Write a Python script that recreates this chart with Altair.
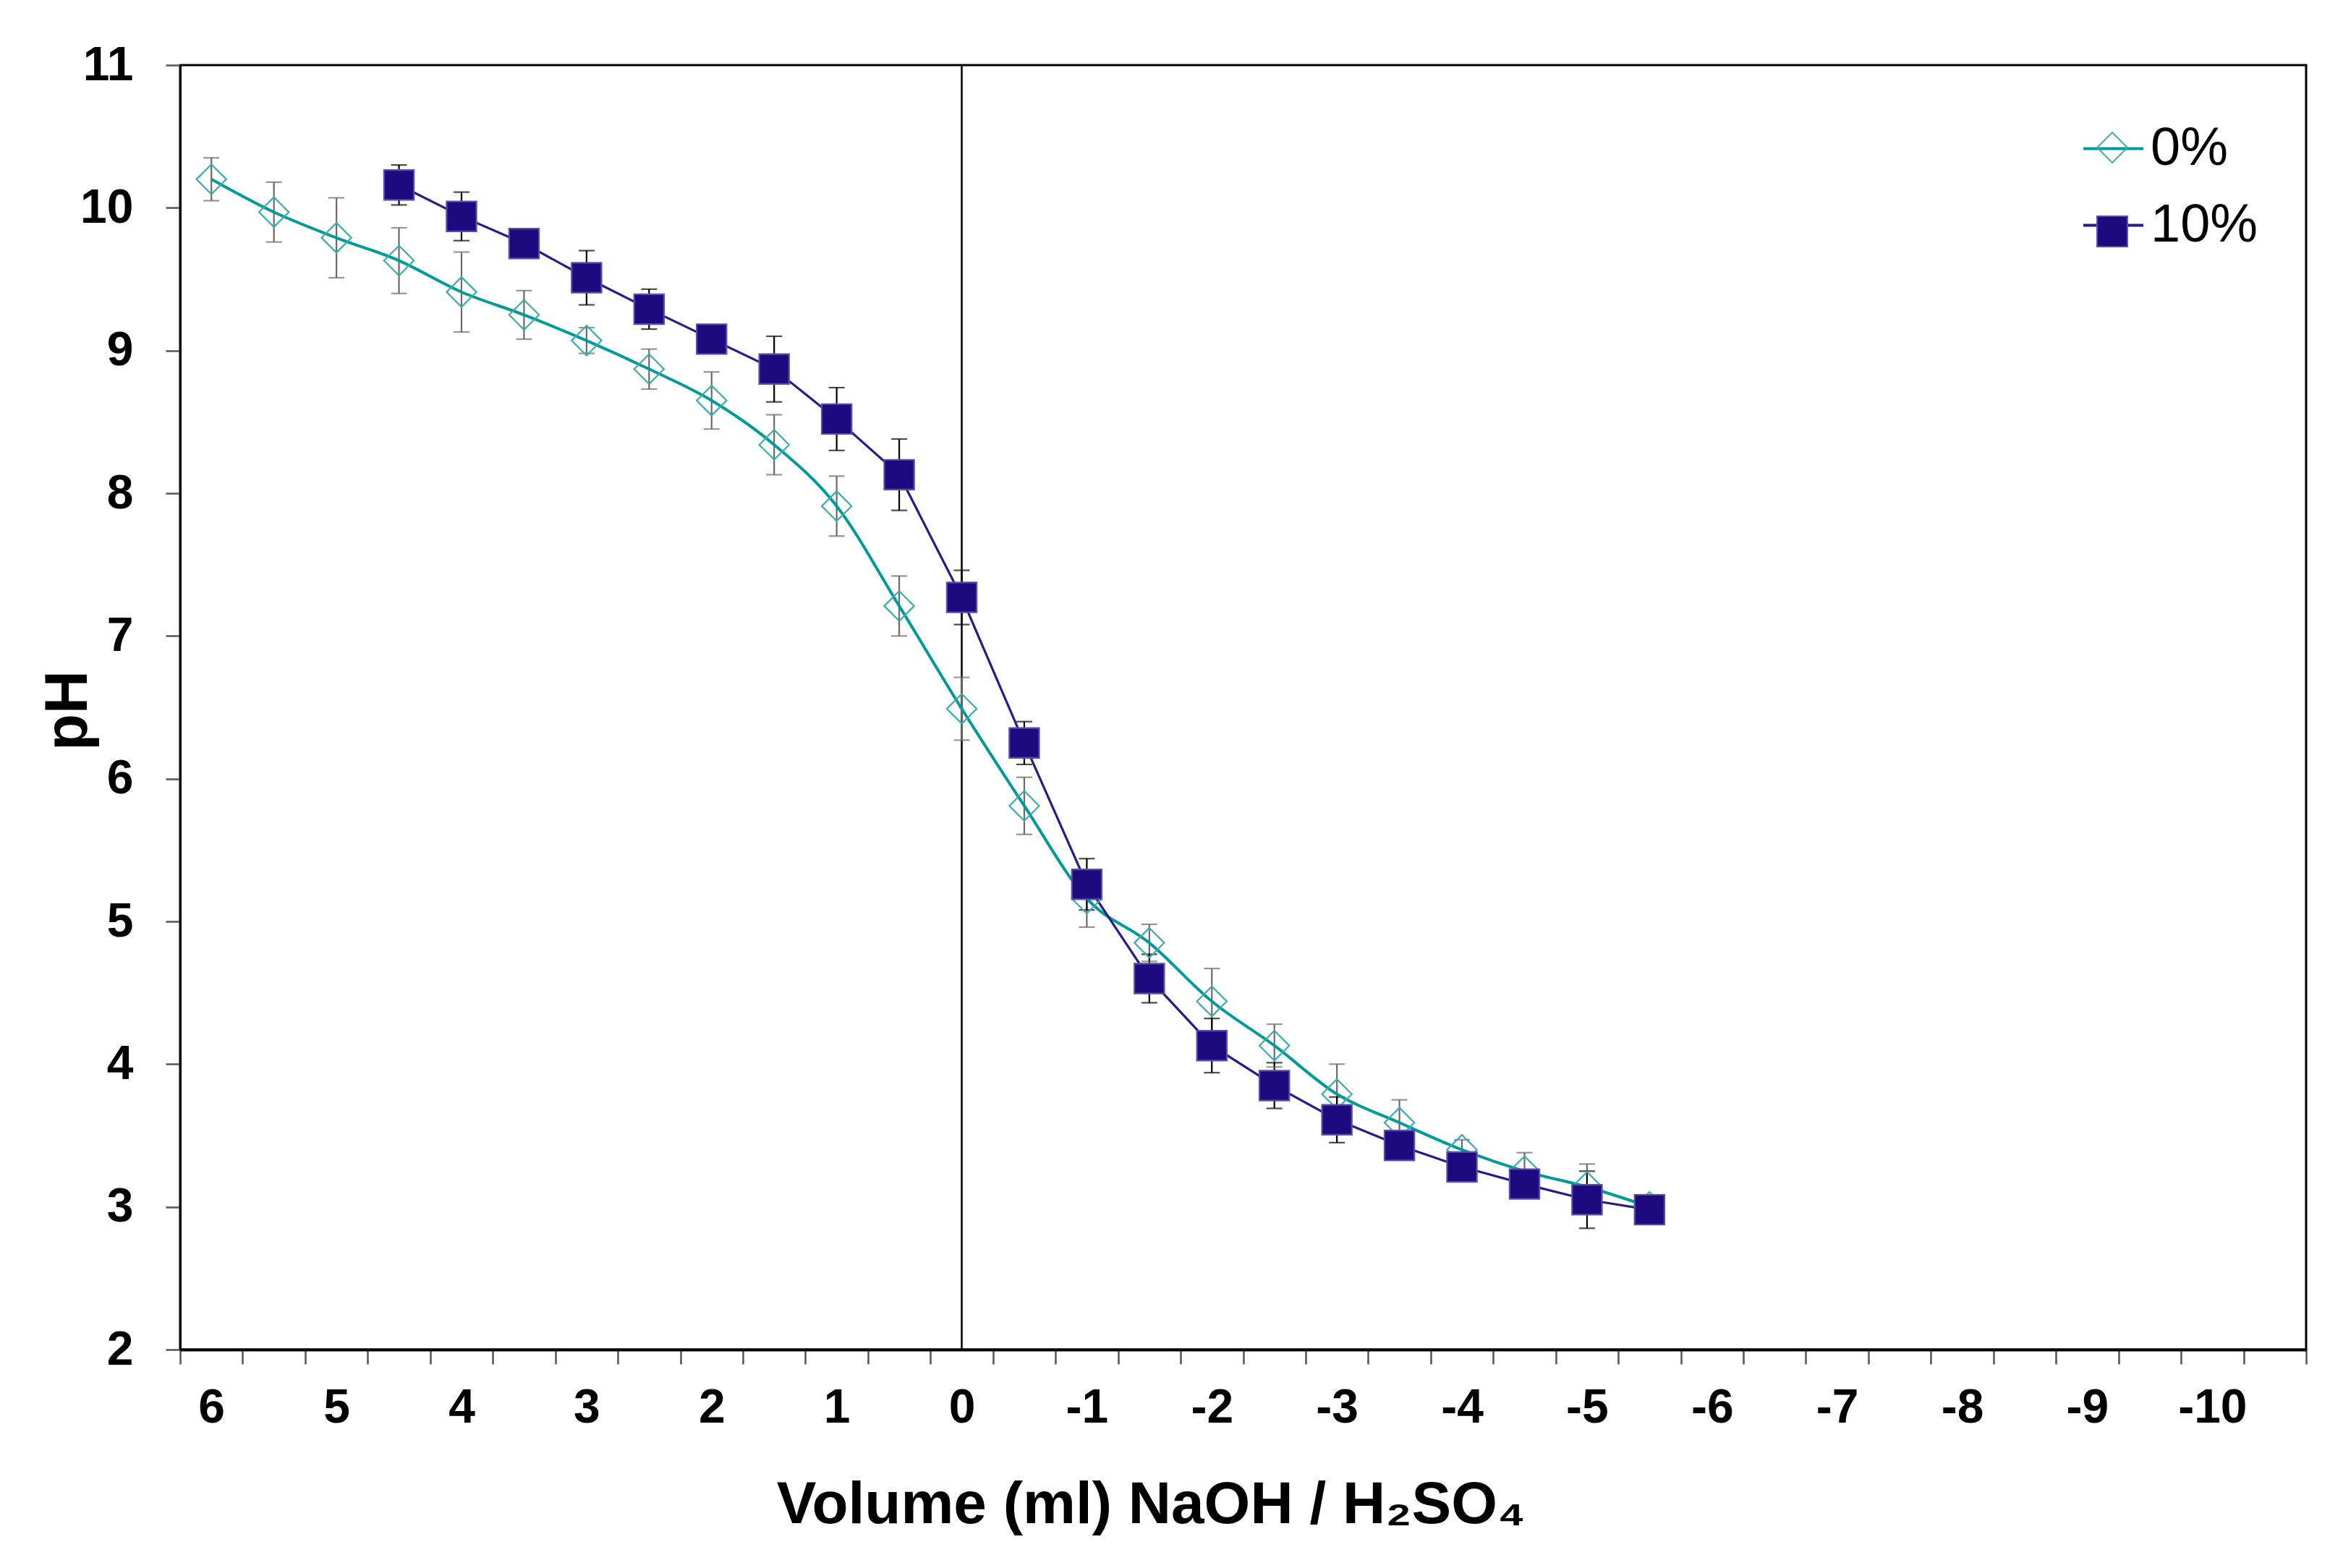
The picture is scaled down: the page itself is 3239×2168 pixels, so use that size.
import altair as alt
import pandas as pd

# ---- data ----
x_0 = [6, 5.5, 5, 4.5, 4, 3.5, 3, 2.5, 2, 1.5, 1, 0.5, 0,
       -0.5, -1, -1.5, -2, -2.5, -3, -3.5, -4, -4.5, -5, -5.5]
ph_0 = [10.20, 9.97, 9.79, 9.63, 9.41, 9.25, 9.07, 8.87, 8.65, 8.34, 7.91, 7.21, 6.49,
        5.81, 5.16, 4.85, 4.44, 4.13, 3.79, 3.59, 3.40, 3.25, 3.14, 3.00]
err_0 = [0.15, 0.21, 0.28, 0.23, 0.28, 0.17, 0.09, 0.14, 0.20, 0.21, 0.21, 0.21, 0.22,
         0.20, 0.20, 0.13, 0.23, 0.15, 0.21, 0.16, 0.07, 0.13, 0.16, 0.03]

x_10 = [4.5, 4, 3.5, 3, 2.5, 2, 1.5, 1, 0.5, 0,
        -0.5, -1, -1.5, -2, -2.5, -3, -3.5, -4, -4.5, -5, -5.5]
ph_10 = [10.16, 9.94, 9.75, 9.51, 9.29, 9.08, 8.87, 8.52, 8.13, 7.27,
         6.25, 5.26, 4.60, 4.13, 3.85, 3.61, 3.43, 3.28, 3.16, 3.05, 2.98]
err_10 = [0.14, 0.17, 0.05, 0.19, 0.14, 0.05, 0.23, 0.22, 0.25, 0.19,
          0.15, 0.18, 0.17, 0.19, 0.16, 0.16, 0.05, 0.10, 0.08, 0.20, 0.03]

series_names = ["0%", "10%"]
x_labels = [6, 5, 4, 3, 2, 1, 0, -1, -2, -3, -4, -5, -6, -7, -8, -9, -10]
x_tick_marks = [6.25 - 0.5 * i for i in range(35)]
y_ticks = [2, 3, 4, 5, 6, 7, 8, 9, 10, 11]

x_title = "Volume (ml) NaOH / H\u2082SO\u2084"
y_title = "pH"

# ---- styling ----
FONT = "Liberation Sans"
TEAL = "#009a9a"
TEAL_MARK = "#3aacac"
NAVY_LINE = "#2a1b88"
NAVY_FILL = "#1c0a7e"
NAVY_EDGE = "#5a4daa"

rows = []
for s, xs, ys, es in [("0%", x_0, ph_0, err_0), ("10%", x_10, ph_10, err_10)]:
    for xv, yv, ev in zip(xs, ys, es):
        rows.append({"x": xv, "ph": yv, "lo": yv - ev, "hi": yv + ev,
                     "series": s, "series2": s})
df = pd.DataFrame(rows)

W, H = 2939, 1776

x_scale = alt.Scale(domain=[6.25, -10.75], nice=False, zero=False)
y_scale = alt.Scale(domain=[2, 11], nice=False, zero=False)

x_axis = alt.Axis(
    values=sorted(x_labels + x_tick_marks, reverse=True),
    labelExpr="datum.value % 1 === 0 ? '' + datum.value : ''",
    tickOpacity={"condition": {"test": "(datum.value * 4) % 2 !== 0", "value": 1}, "value": 0},
    tickSize=20, tickWidth=2.5, tickColor="#555555",
    domainColor="black", domainWidth=4,
    labelFont=FONT, labelFontSize=66, labelFontWeight="bold", labelColor="black",
    labelPadding=28, labelOverlap=False, labelFlush=False, labelBound=False,
    grid=False,
    title=x_title, titleFont=FONT, titleFontSize=82, titleFontWeight="bold",
    titleColor="black", titleX=1342, titleY=239, titleAlign="center",
    titleBaseline="alphabetic", titleAnchor=None,
)
y_axis = alt.Axis(
    values=y_ticks, tickSize=20, tickWidth=2.5, tickColor="#555555",
    domainColor="black", domainWidth=3,
    labelFont=FONT, labelFontSize=66, labelFontWeight="bold", labelColor="black",
    labelPadding=45, labelFlush=False, grid=False,
    title=y_title, titleFont=FONT, titleFontSize=83, titleFontWeight="bold",
    titleColor="black", titleX=-130, titleY=892, titleAngle=270,
    titleAlign="center", titleBaseline="alphabetic",
)

base = alt.Chart(df)
X = alt.X("x:Q", scale=x_scale, axis=x_axis)
Y = alt.Y("ph:Q", scale=y_scale, axis=y_axis)

zero_line = alt.Chart(pd.DataFrame({"x": [0]})).mark_rule(
    color="black", strokeWidth=2.5
).encode(x=alt.X("x:Q", scale=x_scale, axis=x_axis))

err_color = alt.condition(alt.datum.series == "0%", alt.value("#6a6a6a"), alt.value("black"))
err_rule = base.mark_rule(strokeWidth=2.2).encode(
    x=X, y=alt.Y("lo:Q", scale=y_scale, axis=y_axis), y2="hi:Q", color=err_color
)
err_lo = base.mark_tick(orient="horizontal", size=22, thickness=2.2).encode(
    x=X, y=alt.Y("lo:Q", scale=y_scale, axis=y_axis), color=err_color
)
err_hi = base.mark_tick(orient="horizontal", size=22, thickness=2.2).encode(
    x=X, y=alt.Y("hi:Q", scale=y_scale, axis=y_axis), color=err_color
)

line0 = alt.Chart(df[df.series == "0%"]).mark_line(
    interpolate="monotone", strokeWidth=4
).encode(
    x=X, y=Y,
    color=alt.Color("series:N",
                    scale=alt.Scale(domain=series_names, range=[TEAL, NAVY_LINE]),
                    legend=alt.Legend(
                        title=None, orient="none", legendX=2629, legendY=72,
                        symbolType="stroke", symbolSize=6889, symbolStrokeWidth=4,
                        labelFont=FONT, labelFontSize=74, labelColor="black",
                        labelOffset=8, rowPadding=25, padding=0,
                    )),
)
line10 = alt.Chart(df[df.series == "10%"]).mark_line(strokeWidth=3.2).encode(
    x=X, y=Y, color=alt.Color("series:N")
)

leg2 = alt.Legend(
    title=None, orient="none", legendX=2649, legendY=92,
    symbolSize=1750, symbolStrokeWidth=2,
    labelExpr="''", labelFontSize=1, labelOffset=0,
    rowPadding=66, padding=0,
)
points = base.mark_point(size=1700, strokeWidth=2.2, opacity=1).encode(
    x=X, y=Y,
    shape=alt.Shape("series2:N", scale=alt.Scale(range=["diamond", "square"]), legend=leg2),
    fill=alt.Fill("series2:N", scale=alt.Scale(range=["transparent", NAVY_FILL]), legend=leg2),
    stroke=alt.Stroke("series2:N", scale=alt.Scale(range=[TEAL_MARK, NAVY_EDGE]), legend=leg2),
)

chart = alt.layer(
    zero_line, err_rule, err_lo, err_hi, line0, line10, points
).properties(
    width=W, height=H,
    padding={"left": 241, "top": 82, "right": 43, "bottom": 300},
    autosize=alt.AutoSizeParams(type="none"),
    background="white",
).configure_view(stroke="black", strokeWidth=3)

chart.save("out.html", embed_options={"renderer": "svg", "actions": False})
